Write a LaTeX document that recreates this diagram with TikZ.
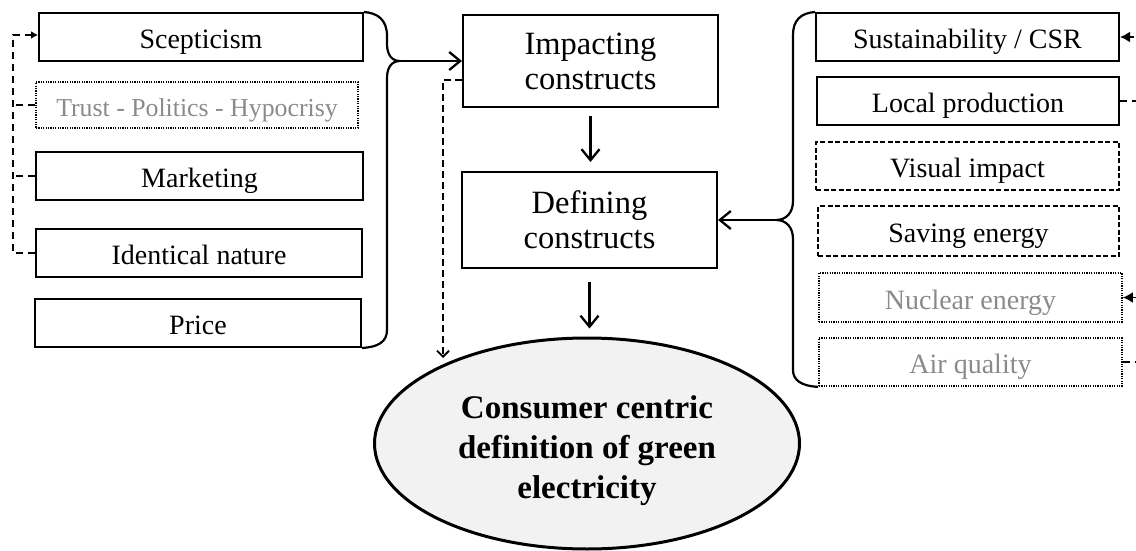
\documentclass[tikz,border=0pt]{standalone}
\usepackage{fontspec}
\setmainfont{Liberation Serif}
\usetikzlibrary{arrows.meta,shapes.geometric,calc}
\definecolor{greytxt}{HTML}{8A8A8A}
\definecolor{ellfill}{HTML}{F2F2F2}
\tikzset{
 box/.style={draw, line width=2pt, rectangle, inner sep=0pt, font=\fontsize{28}{32}\selectfont, text height=23.5pt, text depth=0pt},
 dashbox/.style={box, dash pattern=on 5pt off 2.5pt},
 dotbox/.style={box, line width=1.7pt, dash pattern=on 1.2pt off 1.2pt, text=greytxt},
 bigbox/.style={draw, line width=2pt, inner sep=0pt, align=center, font=\fontsize{32.5}{35}\selectfont},
 arr/.style={line width=2.3pt, -{Straight Barb[length=11pt,width=18pt]}},
 dashline/.style={line width=1.8pt, dash pattern=on 7pt off 5pt},
 brace/.style={line width=2.2pt},
 ell/.style={draw, line width=3pt, ellipse, fill=ellfill, inner sep=0pt, font=\fontsize{33}{40}\selectfont\bfseries},
}
\begin{document}
\begin{tikzpicture}[x=1pt,y=-1pt]
\useasboundingbox (0,0) rectangle (1136,551);
\clip (0,0) rectangle (1136,551);
% left boxes
\node[box, minimum width=324pt, minimum height=48pt] (Scep) at (201,37) {Scepticism};
\node[dotbox, minimum width=322pt, minimum height=46pt, font=\fontsize{25.8}{30}\selectfont] (Trust) at (197,105) {Trust - Politics - Hypocrisy};
\node[box, minimum width=327pt, minimum height=48pt] (Mark) at (199.5,176) {Marketing};
\node[box, minimum width=326pt, minimum height=48pt] (Ident) at (199,253) {Identical nature};
\node[box, minimum width=326pt, minimum height=48pt] (Price) at (198,323) {Price};
% centre
\node[bigbox, minimum width=255pt, minimum height=92pt] (Imp) at (590.5,61) {Impacting\\constructs};
\node[bigbox, minimum width=255pt, minimum height=96pt] (Def) at (589.5,220) {Defining\\constructs};
\node[ell, minimum width=425pt, minimum height=211pt] (Ell) at (587,443.5) {\begin{tabular}{@{}c@{}}\rule{0pt}{42pt}Consumer centric\\definition of green\\electricity\end{tabular}};
% right boxes
\node[box, minimum width=303pt, minimum height=48pt] (Sust) at (967.5,37) {Sustainability / CSR};
\node[box, minimum width=302pt, minimum height=48pt] (Local) at (968,101) {Local production};
\node[dashbox, minimum width=303pt, minimum height=48pt] (Vis) at (967.5,166) {Visual impact};
\node[dashbox, minimum width=301pt, minimum height=50pt] (Save) at (968.5,231) {Saving energy};
\node[dotbox, minimum width=303pt, minimum height=49pt] (Nuc) at (970.5,297.5) {Nuclear energy};
\node[dotbox, minimum width=303pt, minimum height=48pt] (Air) at (970.5,362) {Air quality};
% braces
\coordinate (LB) at (400,61);
\coordinate (RB) at (776,220);
\draw[brace] (Scep.north east) .. controls (378,13) and (387,20) .. (387,36) -- (387,44)
  .. controls (387,55) and (392,61) .. (LB)
  .. controls (392,61) and (387,67) .. (387,78) -- (387,330)
  .. controls (387,342) and (378,347) .. (Price.south east);
\draw[brace] (Sust.north west) .. controls (801,13) and (793,20) .. (793,35) -- (793,201)
  .. controls (793,213) and (786,220) .. (RB)
  .. controls (786,220) and (793,227) .. (793,239) -- (793,370)
  .. controls (793,380) and (801,386) .. (Air.south west);
% arrows
\draw[arr] (LB) -- (Imp.west);
\draw[arr] (RB) -- (Def.east);
\draw[arr, shorten <=8pt, shorten >=9pt] (Imp.south) -- (Imp.south |- Def.north);
\draw[arr, shorten <=13pt, shorten >=8pt] (Def.south) -- (Def.south |- Ell.north);
\coordinate (dtip) at (443,358);
\draw[line width=1.8pt, dash pattern=on 7pt off 4pt, -{Straight Barb[length=6pt,width=12pt]}] ([yshift=-19pt]Imp.west) -| (dtip);
% left dashed feedback
\draw[dashline, -{Latex[length=7pt,width=8pt]}] (Ident.west) -| ([xshift=-25pt,yshift=2pt]Scep.west) -- ([yshift=2pt]Scep.west);
\draw[dashline] (Trust.west) -- ++(-22,0);
\draw[dashline] (Mark.west) -- ++(-22,0);
% right dashed feedback
\draw[dashline, -{Latex[length=10pt,width=11pt]}] (Local.east) -- ++(35,0) |- (Sust.east);
\draw[dashline, -{Latex[length=10pt,width=11pt]}] (Air.east) -- ++(35,0) |- (Nuc.east);
\end{tikzpicture}
\end{document}
